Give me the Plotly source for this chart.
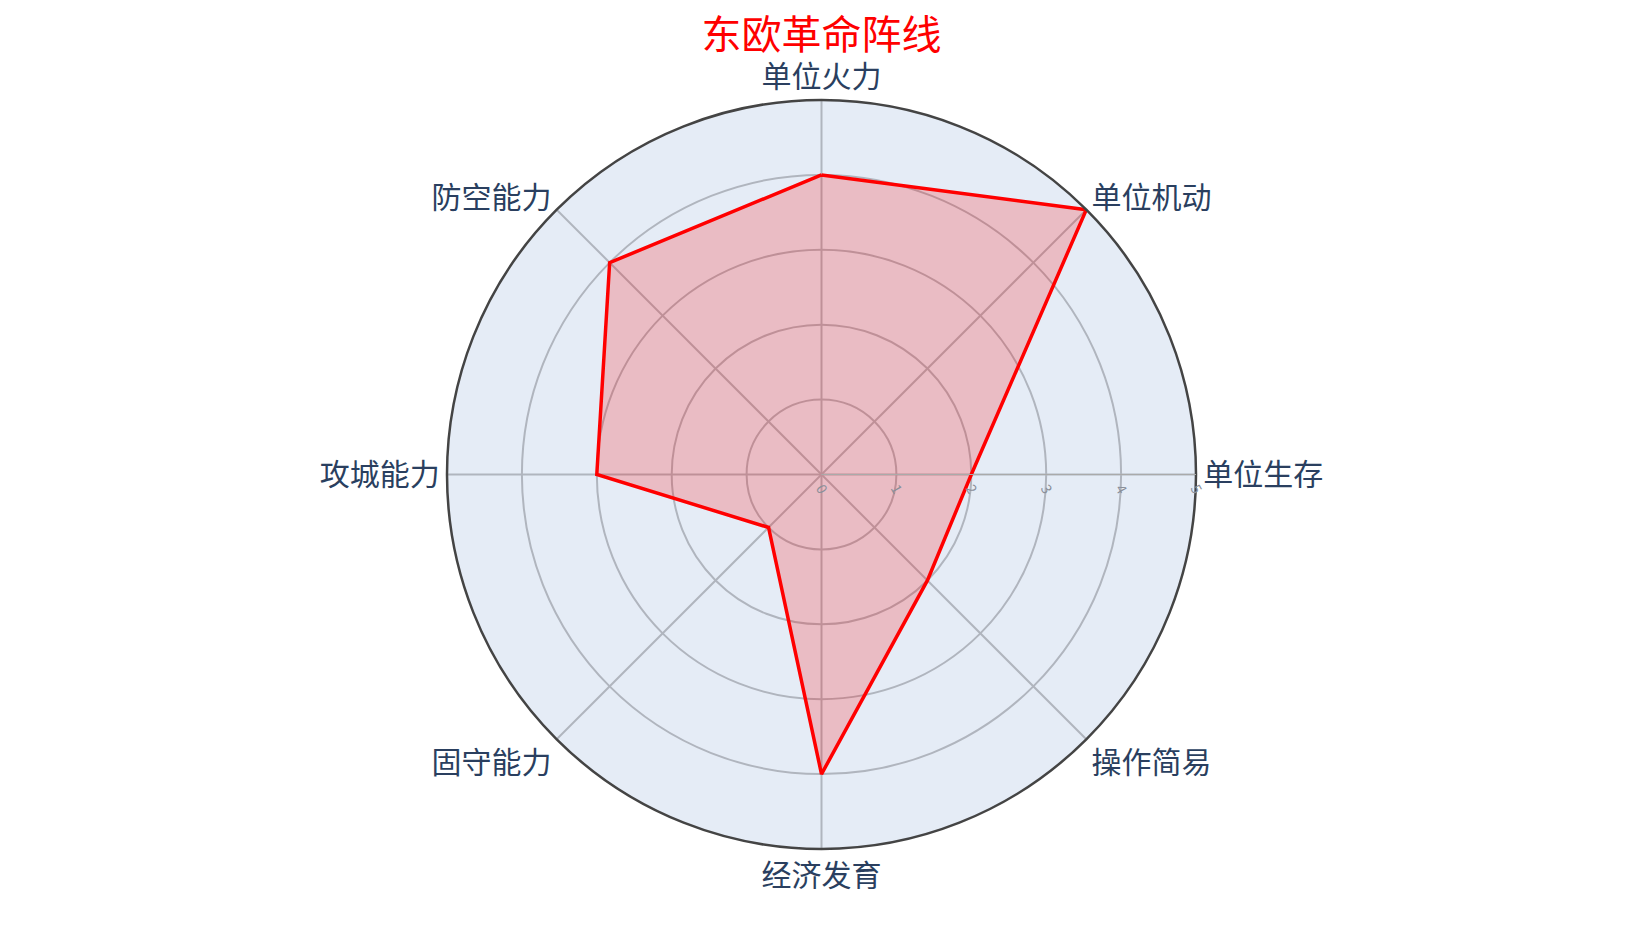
"""Radar chart for the East European revolution front."""

import plotly.graph_objects as go

# Data.
categories = ['单位火力', '单位机动', '单位生存', '操作简易', '经济发育', '固守能力', '攻城能力', '防空能力']
scores = [4, 5, 2, 2, 4, 1, 3, 4]
radial_ticks = [0, 1, 2, 3, 4, 5]
title_text = '东欧革命阵线'


def main():
    # Close the polygon.
    theta = categories + categories[:1]
    r = scores + scores[:1]

    figure = go.Figure()
    figure.add_trace(
        go.Scatterpolar(
            r=r,
            theta=theta,
            fill='toself',
            fillcolor='rgba(255, 0, 0, 0.2)',
            line=dict(color='red', width=3.5),
            mode='lines',
            showlegend=False
        )
    )

    figure.update_layout(
        title=dict(
            text=title_text,
            x=0.5,
            xanchor='center',
            y=0.97,
            yanchor='middle',
            font=dict(size=40, color='red', family='Noto Sans CJK SC')
        ),
        font=dict(family='Noto Sans CJK SC', color='#2a3f5f'),
        paper_bgcolor='white',
        polar=dict(
            bgcolor='#E5ECF6',
            angularaxis=dict(
                direction='clockwise',
                rotation=90,
                tickfont=dict(size=30),
                showline=True,
                linecolor='#444',
                linewidth=2.5,
                gridcolor='#b0b5be',
                gridwidth=1.5
            ),
            radialaxis=dict(
                range=[0, 5],
                tickvals=radial_ticks,
                angle=0,
                tickangle=60,
                tickfont=dict(size=14, color='#8a8f99'),
                showline=True,
                linecolor='#aaa',
                gridcolor='#b0b5be',
                gridwidth=1.5
            )
        ),
        margin=dict(t=92, b=72, l=80, r=80)
    )

    figure.write_html('out.html')


if __name__ == '__main__':
    main()
